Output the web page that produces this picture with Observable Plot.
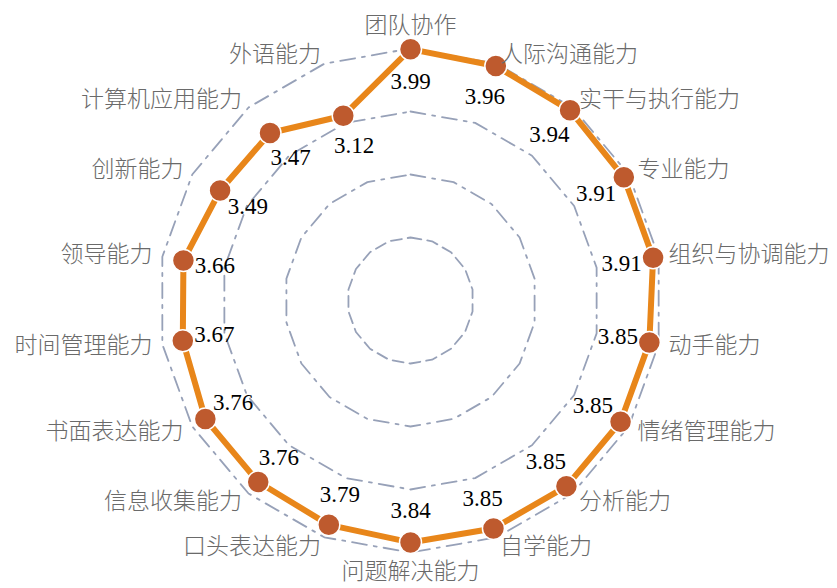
<!DOCTYPE html>
<html><head><meta charset="utf-8">
<script src="https://cdn.jsdelivr.net/npm/d3@7"></script>
<script src="https://cdn.jsdelivr.net/npm/@observablehq/plot@0.6"></script>
<style>body{margin:0;background:#fff}</style>
</head><body><div id="chart"></div>
<script>
const categories = ["团队协作","人际沟通能力","实干与执行能力","专业能力","组织与协调能力","动手能力","情绪管理能力","分析能力","自学能力","问题解决能力","口头表达能力","信息收集能力","书面表达能力","时间管理能力","领导能力","创新能力","计算机应用能力","外语能力"];
const values = [3.99,3.96,3.94,3.91,3.91,3.85,3.85,3.85,3.85,3.84,3.79,3.76,3.76,3.67,3.66,3.49,3.47,3.12];
const ringLevels = [1,2,3,4];
const maxValue = 4;

const W = 837, H = 588, cx = 410, cy = 300, R = 252;
const pxPerUnit = R / maxValue;
const n = categories.length;
const angle = i => (i / n) * 2 * Math.PI;
const polar = (i, r) => ({x: r * Math.sin(angle(i)), y: r * Math.cos(angle(i))});

const points = categories.map((c, i) => ({category: c, value: values[i], ...polar(i, values[i])}));
const closed = [...points, points[0]];
const rings = ringLevels.flatMap(level => d3.range(n + 1).map(i => ({level, ...polar(i % n, level)})));
const valueLabels = points.map((d, i) => ({label: d.value.toFixed(2), ...polar(i, d.value - 32 / pxPerUnit)}));
const catLabels = categories.map((c, i) => {
  const s = Math.sin(angle(i)), co = Math.cos(angle(i));
  const vertical = Math.abs(s) < 0.01;
  const r = (vertical ? (co > 0 ? 268 : 262) : 262) / pxPerUnit;
  return {category: c, ...polar(i, r), anchor: vertical ? "middle" : (s > 0 ? "start" : "end"), line: vertical ? (co > 0 ? "bottom" : "top") : "middle"};
});

const catFont = "'Noto Sans CJK SC', 'Noto Sans', sans-serif";
const numFont = "'Liberation Serif', 'DejaVu Serif', serif";
const catText = (anchor, line) => Plot.text(catLabels.filter(d => d.anchor === anchor && d.line === line), {
  x: "x", y: "y", text: "category", textAnchor: anchor, lineAnchor: line,
  fontSize: 23, fontFamily: catFont, fontWeight: 300, fill: "#6a6a6a"
});

const chart = Plot.plot({
  width: W, height: H,
  margin: 0,
  x: {domain: [-maxValue, maxValue], range: [cx - R, cx + R]},
  y: {domain: [-maxValue, maxValue], range: [cy + R, cy - R]},
  axis: null,
  style: {background: "#fff", overflow: "visible"},
  marks: [
    Plot.line(rings.filter(d => d.level === 1), {x: "x", y: "y", z: "level", stroke: "#97a1b8", strokeWidth: 1.8, strokeDasharray: "11,6"}),
    Plot.line(rings.filter(d => d.level > 1), {x: "x", y: "y", z: "level", stroke: "#97a1b8", strokeWidth: 1.8, strokeDasharray: "15,7,3,7"}),
    Plot.line(closed, {x: "x", y: "y", stroke: "#E8861A", strokeWidth: 6, strokeLinejoin: "round"}),
    Plot.dot(points, {x: "x", y: "y", r: 11, fill: "#BE5A2E", stroke: "#fff", strokeWidth: 1.5}),
    catText("middle", "bottom"),
    catText("middle", "top"),
    catText("start", "middle"),
    catText("end", "middle"),
    Plot.text(valueLabels, {x: "x", y: "y", text: "label", fontSize: 23, fontFamily: numFont, fill: "#000"})
  ]
});
document.getElementById("chart").append(chart);
</script>
</body></html>
